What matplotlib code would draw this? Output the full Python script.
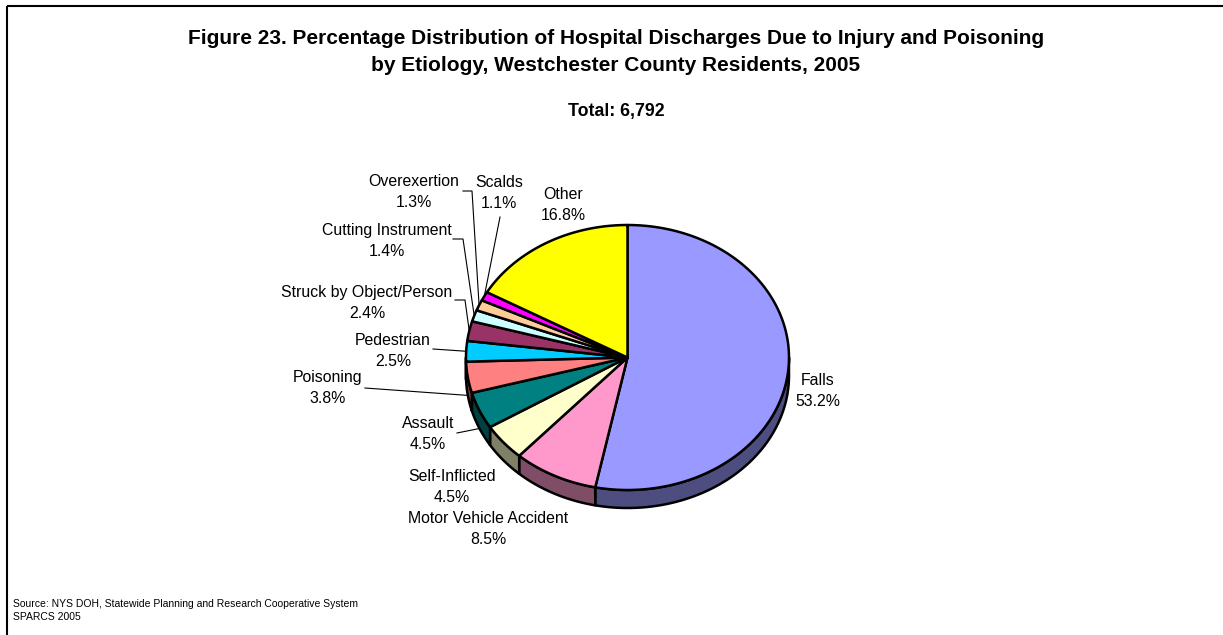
"""Figure 23 - injury and poisoning discharges by etiology, drawn as an Excel-style 3D pie."""

import numpy as np
import matplotlib

matplotlib.use("Agg")
import matplotlib.pyplot as plt
from matplotlib.colors import to_rgb
from matplotlib.patches import Polygon, Rectangle

plt.rcParams["font.family"] = ["Liberation Sans", "DejaVu Sans"]

W, H = 1223, 635

categories = ["Falls", "Motor Vehicle Accident", "Self-Inflicted", "Assault", "Poisoning",
              "Pedestrian", "Struck by Object/Person", "Cutting Instrument", "Overexertion",
              "Scalds", "Other"]
percents = [53.2, 8.5, 4.5, 4.5, 3.8, 2.5, 2.4, 1.4, 1.3, 1.1, 16.8]
top_colors = ["#9999FF", "#FF99CC", "#FFFFCC", "#008080", "#FF8080", "#00CCFF",
              "#993366", "#CCFFFF", "#FFCC99", "#FF00FF", "#FFFF00"]
total_label = "Total: 6,792"

# label cap-centre positions in pixels (layout only)
label_xy = {
    "Falls": (818, 379),
    "Motor Vehicle Accident": (488, 517),
    "Self-Inflicted": (452, 475),
    "Assault": (428, 422),
    "Poisoning": (328, 376),
    "Pedestrian": (393, 339),
    "Struck by Object/Person": (367, 291),
    "Cutting Instrument": (387, 229),
    "Overexertion": (414, 180),
    "Scalds": (499, 181),
    "Other": (563, 193),
}
# leader line start (and elbow) points, pie end computed from the slice
leaders = {
    "Scalds": [(500, 217)],
    "Overexertion": [(463, 191), (472, 191)],
    "Cutting Instrument": [(453, 239), (463, 239)],
    "Struck by Object/Person": [(455, 300), (465, 300)],
    "Pedestrian": [(433, 349)],
    "Poisoning": [(365, 388)],
    "Assault": [(457, 433)],
}

# pie geometry
CX, CY = 627.5, 357.5
RX, RY = 161.5, 132.5
DEPTH = 18
LABEL_FS = 11.45
LINE_GAP = 21


def ellipse_xy(theta, drop=0.0):
    t = np.radians(theta)
    return CX + RX * np.sin(t), CY - RY * np.cos(t) + drop


def put(ax, x, y_cap, s, size, weight="normal", ha="center"):
    # place text by the centre of its capital letters
    cap = 0.716 * size * 100 / 72
    ax.text(x, y_cap + cap / 2, s, fontsize=size, fontweight=weight, ha=ha, va="baseline")


fig = plt.figure(figsize=(W / 100, H / 100), dpi=100)
ax = fig.add_axes([0, 0, 1, 1])
ax.set_xlim(0, W)
ax.set_ylim(H, 0)
ax.axis("off")

ax.add_patch(Rectangle((6.5, 5.5), W + 10, H + 10, fill=False, ec="black", lw=1.5))

bounds = np.concatenate([[0], np.cumsum(percents)]) / sum(percents) * 360

# sides of the front half
for (t0, t1), col in zip(zip(bounds[:-1], bounds[1:]), top_colors):
    s0, s1 = max(t0, 90), min(t1, 270)
    if s1 <= s0:
        continue
    ts = np.linspace(s0, s1, 80)
    xt, yt = ellipse_xy(ts)
    xb, yb = ellipse_xy(ts[::-1], DEPTH)
    side = tuple(c * 0.5 for c in to_rgb(col))
    ax.add_patch(Polygon(np.column_stack([np.r_[xt, xb], np.r_[yt, yb]]),
                         fc=side, ec="black", lw=1.8, joinstyle="round", zorder=1))

# top faces
for (t0, t1), col in zip(zip(bounds[:-1], bounds[1:]), top_colors):
    ts = np.linspace(t0, t1, 120)
    xt, yt = ellipse_xy(ts)
    ax.add_patch(Polygon(np.column_stack([np.r_[CX, xt], np.r_[CY, yt]]),
                         fc=col, ec="black", lw=1.8, joinstyle="round", zorder=2))

# labels and leaders
for name, pct, t0, t1 in zip(categories, percents, bounds[:-1], bounds[1:]):
    x, y = label_xy[name]
    put(ax, x, y, name, LABEL_FS)
    put(ax, x, y + LINE_GAP, f"{pct:.1f}%", LABEL_FS)
    if name in leaders:
        mid = (t0 + t1) / 2
        ex, ey = ellipse_xy(mid, DEPTH if 90 < mid < 270 else 0)
        pts = leaders[name] + [(ex, ey)]
        ax.plot([p[0] for p in pts], [p[1] for p in pts], color="black", lw=0.8, zorder=3)

put(ax, 616, 37, "Figure 23. Percentage Distribution of Hospital Discharges Due to Injury and Poisoning",
    15, "bold")
put(ax, 616, 64, "by Etiology, Westchester County Residents, 2005", 15, "bold")
put(ax, 616, 110, total_label, 12.8, "bold")

put(ax, 13, 603, "Source: NYS DOH, Statewide Planning and Research Cooperative System", 7.5, ha="left")
put(ax, 13, 616, "SPARCS 2005", 7.5, ha="left")

fig.savefig("out.png", dpi=100)
plt.close(fig)
